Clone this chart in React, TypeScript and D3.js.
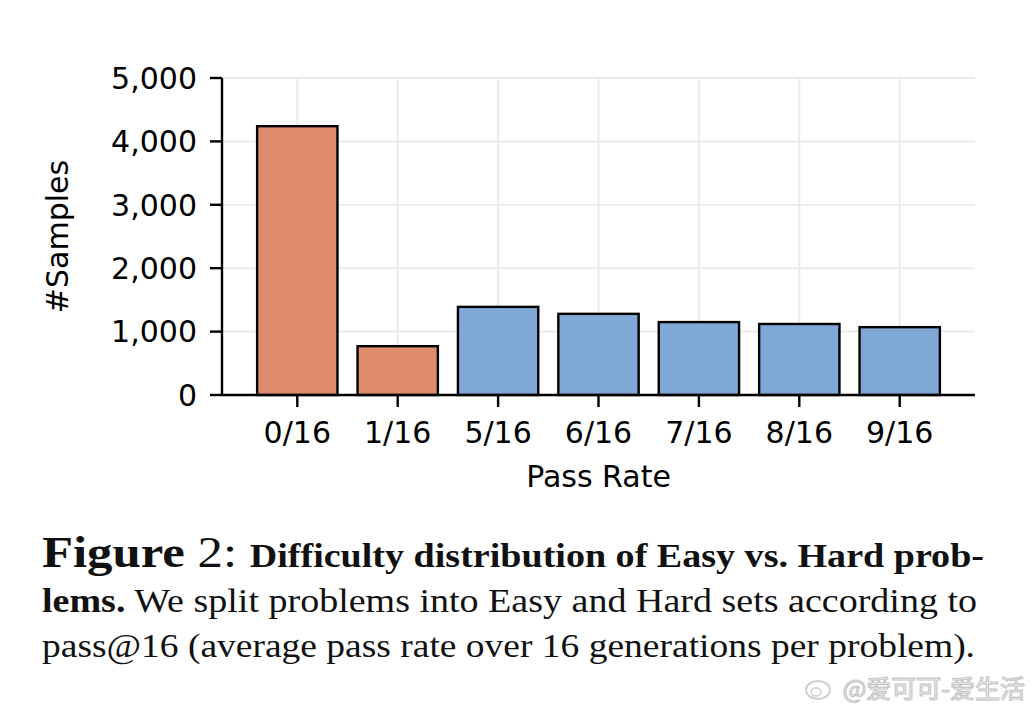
import React from 'react';
import * as d3 from 'd3';

// pass-rate buckets and sample counts
const categories = ['0/16', '1/16', '5/16', '6/16', '7/16', '8/16', '9/16'];
const samples = [4240, 770, 1390, 1280, 1150, 1120, 1070];
const groups = ['hard', 'hard', 'easy', 'easy', 'easy', 'easy', 'easy'];
const yTicks = [0, 1000, 2000, 3000, 4000, 5000];

const W = 1036;
const H = 712;
const margin = { left: 222, right: 61, top: 78, bottom: 317 };

const colors: Record<string, string> = { hard: '#E08D6F', easy: '#80A9D8' };
const sans = 'DejaVu Sans, sans-serif';
const serif = 'Liberation Serif, serif';
const fs = 30;

const App: React.FC = () => {
  const x0 = margin.left;
  const x1 = W - margin.right;
  const y0 = H - margin.bottom;
  const y1 = margin.top;

  // matplotlib-ish: categories on 0..n-1, with 0.75 padding each side
  const x = d3.scaleLinear().domain([-0.75, categories.length - 0.25]).range([x0, x1]);
  const y = d3.scaleLinear().domain([0, 5000]).range([y0, y1]);
  const barW = x(0.4) - x(-0.4);
  const fmt = d3.format(',');

  return (
    <svg width={W} height={H} style={{ position: 'absolute', left: 0, top: 0, background: '#fff' }}>
      {/* grid */}
      <g stroke="#ebebeb" strokeWidth={2}>
        {yTicks.map(t => (
          <line key={'h' + t} x1={x0} x2={x1} y1={y(t)} y2={y(t)} />
        ))}
        {categories.map((c, i) => (
          <line key={'v' + c} x1={x(i)} x2={x(i)} y1={y1} y2={y0} />
        ))}
      </g>

      {/* bars */}
      {samples.map((v, i) => (
        <rect
          key={categories[i]}
          x={x(i) - barW / 2}
          y={y(v)}
          width={barW}
          height={y(0) - y(v)}
          fill={colors[groups[i]]}
          stroke="#000"
          strokeWidth={2.4}
        />
      ))}

      {/* spines */}
      <line x1={x0} x2={x0} y1={y1} y2={y0} stroke="#000" strokeWidth={2.4} />
      <line x1={x0} x2={x1} y1={y0} y2={y0} stroke="#000" strokeWidth={2.4} />

      {/* y axis */}
      {yTicks.map(t => (
        <g key={'yt' + t}>
          <line x1={x0 - 12} x2={x0} y1={y(t)} y2={y(t)} stroke="#000" strokeWidth={2.4} />
          <text x={x0 - 25} y={y(t)} dy="0.36em" textAnchor="end" fontFamily={sans} fontSize={fs} fill="#000">
            {fmt(t)}
          </text>
        </g>
      ))}
      <text
        transform={`translate(68,${(y0 + y1) / 2}) rotate(-90)`}
        textAnchor="middle"
        fontFamily={sans}
        fontSize={fs}
        fill="#000"
      >
        #Samples
      </text>

      {/* x axis */}
      {categories.map((c, i) => (
        <g key={'xt' + c}>
          <line x1={x(i)} x2={x(i)} y1={y0} y2={y0 + 12} stroke="#000" strokeWidth={2.4} />
          <text x={x(i)} y={y0 + 48} textAnchor="middle" fontFamily={sans} fontSize={fs} fill="#000">
            {c}
          </text>
        </g>
      ))}
      <text x={(x0 + x1) / 2} y={y0 + 92} textAnchor="middle" fontFamily={sans} fontSize={fs} fill="#000">
        Pass Rate
      </text>

      {/* caption */}
      <text x={42} y={567} fontFamily={serif} fill="#111" textLength={942} lengthAdjust="spacingAndGlyphs">
        <tspan fontSize={44} fontWeight="bold">Figure</tspan>
        <tspan fontSize={44}> 2: </tspan>
        <tspan fontSize={33} fontWeight="bold">Difficulty distribution of Easy vs. Hard prob-</tspan>
      </text>
      <text x={42} y={612} fontFamily={serif} fill="#111" fontSize={34} textLength={935} lengthAdjust="spacingAndGlyphs">
        <tspan fontWeight="bold">lems.</tspan>
        <tspan> We split problems into Easy and Hard sets according to</tspan>
      </text>
      <text x={42} y={657} fontFamily={serif} fill="#111" fontSize={34} textLength={933} lengthAdjust="spacingAndGlyphs">
        pass@16 (average pass rate over 16 generations per problem).
      </text>

      {/* watermark */}
      <g opacity={0.85}>
        <ellipse cx={818} cy={690} rx={12} ry={9} fill="#fff" stroke="#c8c8c8" strokeWidth={2} />
        <ellipse cx={816} cy={692} rx={5} ry={4} fill="none" stroke="#c8c8c8" strokeWidth={1.5} />
        <text
          x={1025}
          y={698}
          textAnchor="end"
          fontFamily="Noto Sans CJK SC, sans-serif"
          fontSize={25}
          fill="#fff"
          stroke="#bdbdbd"
          strokeWidth={1.2}
        >
          @爱可可-爱生活
        </text>
      </g>
    </svg>
  );
};

export default App;
